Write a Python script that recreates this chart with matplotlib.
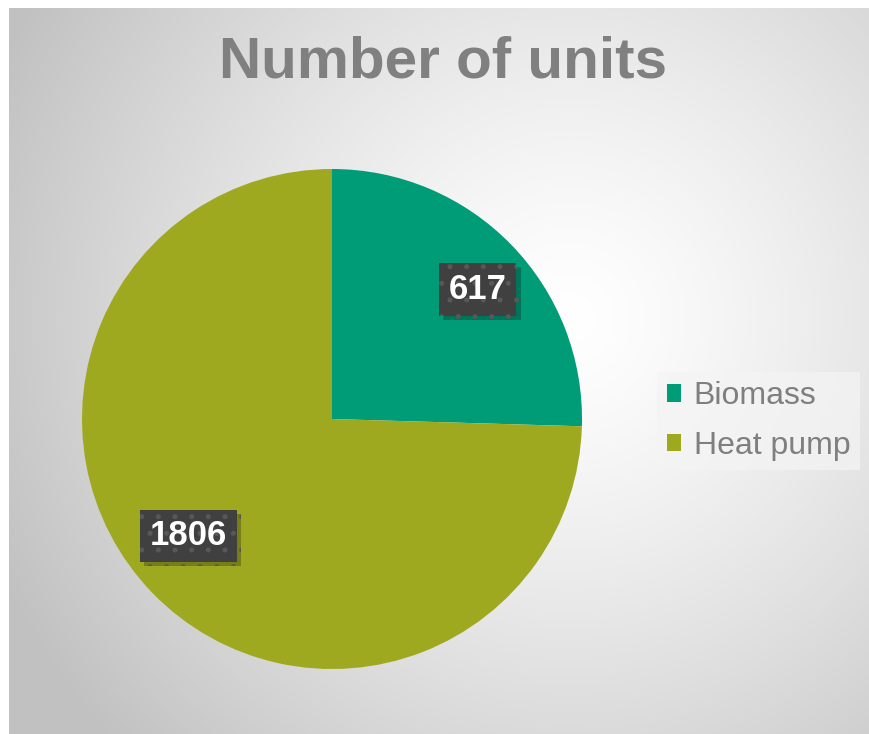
import numpy as np
import matplotlib
matplotlib.use("Agg")
import matplotlib.pyplot as plt
import matplotlib.patheffects as pe

# Data
labels = ["Biomass", "Heat pump"]
values = [617, 1806]
colors = ["#009B77", "#9EA920"]

plt.rcParams["font.family"] = ["Liberation Sans", "DejaVu Sans"]
plt.rcParams["hatch.linewidth"] = 1.2

W, H = 869, 734
fig = plt.figure(figsize=(W / 100, H / 100), dpi=100)
fig.patch.set_facecolor("white")

# radial gradient background of the chart area
bg = fig.add_axes([9 / W, 0, (W - 9) / W, (H - 8) / H])
yy, xx = np.mgrid[0:H - 8, 0:W - 9]
cx, cy = 560, 310
d = np.sqrt((xx - cx) ** 2 + (yy - cy) ** 2)
shade = 1.0 - 0.24 * np.clip(d / 620, 0, 1) ** 1.3
bg.imshow(np.dstack([shade] * 3), aspect="auto", extent=(0, 1, 0, 1), origin="upper")
bg.set_axis_off()

# pie
ax = fig.add_axes([82 / W, 65 / H, 500 / W, 500 / H])
wedges, _ = ax.pie(values, colors=colors, startangle=90, counterclock=False,
                   radius=1, wedgeprops=dict(linewidth=0))
ax.set_xlim(-1, 1)
ax.set_ylim(-1, 1)
ax.set_aspect("equal")

rdist = [0.78, 0.74]
ashift = [-2.5, -5.0]
for w, v, r, s in zip(wedges, values, rdist, ashift):
    ang = np.deg2rad((w.theta1 + w.theta2) / 2 + s)
    t = ax.text(r * np.cos(ang), r * np.sin(ang), str(v),
                ha="center", va="center", color="white", fontsize=25, fontweight="bold",
                bbox=dict(boxstyle="square,pad=0.28", fc="#404040", ec="#585858",
                          lw=0, hatch="."))
    t.get_bbox_patch().set_path_effects(
        [pe.SimplePatchShadow(offset=(3, -3), shadow_rgbFace="black", alpha=0.25), pe.Normal()])

fig.text(443 / W, 1 - 63 / H, "Number of units", ha="center", va="center",
         fontsize=42, fontweight="bold", color="#808080")

leg = fig.legend(wedges, labels, loc="center left", bbox_to_anchor=(657 / W, 1 - 421 / H),
                 frameon=True, fancybox=False, fontsize=23, handlelength=0.45,
                 handleheight=0.45, handletextpad=0.4, labelspacing=0.6,
                 borderpad=0.3, borderaxespad=0, labelcolor="#7f7f7f")
leg.get_frame().set_facecolor("#f4f4f4")
leg.get_frame().set_alpha(0.7)
leg.get_frame().set_linewidth(0)

fig.savefig("out.png", dpi=100)
